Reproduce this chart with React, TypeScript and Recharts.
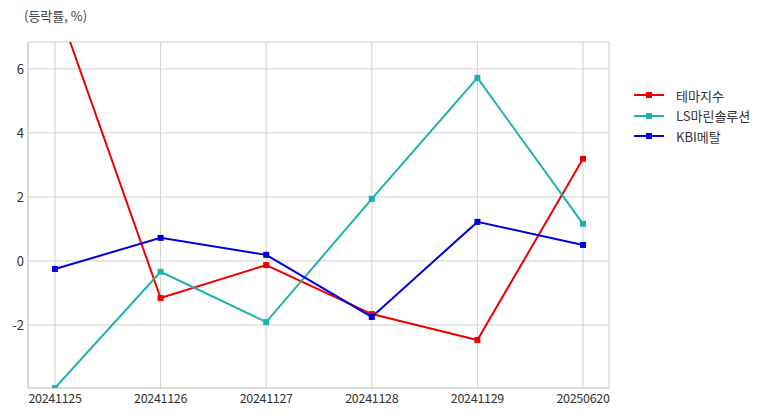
import { CartesianGrid, Legend, Line, LineChart, XAxis, YAxis } from "recharts";

const dates = ["20241125", "20241126", "20241127", "20241128", "20241129", "20250620"];
const themeIndex = [8.18, -1.16, -0.13, -1.66, -2.47, 3.19];
const lsMarine = [-3.97, -0.34, -1.91, 1.94, 5.72, 1.16];
const kbiMetal = [-0.25, 0.72, 0.19, -1.75, 1.22, 0.5];
const yTicks = [-2, 0, 2, 4, 6];

const series = [
	{ key: "theme", name: "테마지수", color: "#ee0000" },
	{ key: "ls", name: "LS마린솔루션", color: "#20b2aa" },
	{ key: "kbi", name: "KBI메탈", color: "#0000dd" },
];

const data = dates.map((d, i) => ({
	date: d,
	theme: themeIndex[i],
	ls: lsMarine[i],
	kbi: kbiMetal[i],
}));

const FONT = "'Noto Sans CJK KR', 'Noto Sans', sans-serif";

const XTick = ({ x, y, payload }: any) => (
	<text x={x} y={y} dy="0.71em" textAnchor="middle" fontSize={12.5} fill="#333" fontFamily={FONT} letterSpacing={-0.3}>
		{payload.value}
	</text>
);

const YTick = ({ x, y, payload }: any) => (
	<text x={x} y={y} dy="0.38em" textAnchor="end" fontSize={13} fill="#333" fontFamily={FONT}>
		{payload.value}
	</text>
);

const squareDot = (color: string) => (props: any) => {
	const { cx, cy, index } = props;
	if (cx == null || cy == null) return <g key={index} />;
	return <rect key={index} x={cx - 3} y={cy - 3} width={6} height={6} fill={color} />;
};

const LegendContent = () => (
	<div style={{ fontFamily: FONT, fontSize: 13, color: "#333" }}>
		{series.map((s) => (
			<div key={s.key} style={{ display: "flex", alignItems: "center", height: 20.5 }}>
				<svg width={30} height={10} style={{ marginRight: 12 }}>
					<line x1={0} y1={5} x2={30} y2={5} stroke={s.color} strokeWidth={2} />
					<rect x={12} y={2} width={6} height={6} fill={s.color} />
				</svg>
				<span>{s.name}</span>
			</div>
		))}
	</div>
);

export default function App() {
	return (
		<div style={{ position: "absolute", left: 0, top: 0, width: 773, height: 416, background: "#fff" }}>
			<div style={{ position: "absolute", left: 24, top: 6, fontFamily: FONT, fontSize: 13, color: "#444" }}>
				(등락률, %)
			</div>
			<LineChart width={773} height={416} data={data} margin={{ top: 42, right: 164, bottom: 0, left: 0 }}>
				<CartesianGrid stroke="#d0d0d0" strokeWidth={1} />
				<XAxis
					dataKey="date"
					height={28}
					padding={{ left: 27, right: 26 }}
					tick={<XTick />}
					tickLine={false}
					tickSize={0}
					tickMargin={6}
					axisLine={{ stroke: "#cccccc" }}
					interval={0}
				/>
				<XAxis xAxisId="top" orientation="top" height={0} tick={false} tickLine={false} axisLine={{ stroke: "#cccccc" }} />
				<YAxis
					width={28}
					domain={[-3.97, 6.84]}
					ticks={yTicks}
					allowDataOverflow
					tick={<YTick />}
					tickLine={false}
					tickSize={0}
					tickMargin={4}
					axisLine={{ stroke: "#cccccc" }}
				/>
				<YAxis yAxisId="right" orientation="right" width={0} tick={false} tickLine={false} axisLine={{ stroke: "#cccccc" }} />
				<Legend
					layout="vertical"
					align="center"
					verticalAlign="middle"
					content={<LegendContent />}
					wrapperStyle={{ left: 634, top: 85, width: 139, height: 70 }}
				/>
				{series.map((s) => (
					<Line
						key={s.key}
						type="linear"
						dataKey={s.key}
						name={s.name}
						stroke={s.color}
						strokeWidth={2}
						dot={squareDot(s.color)}
						activeDot={false}
						isAnimationActive={false}
					/>
				))}
			</LineChart>
		</div>
	);
}
